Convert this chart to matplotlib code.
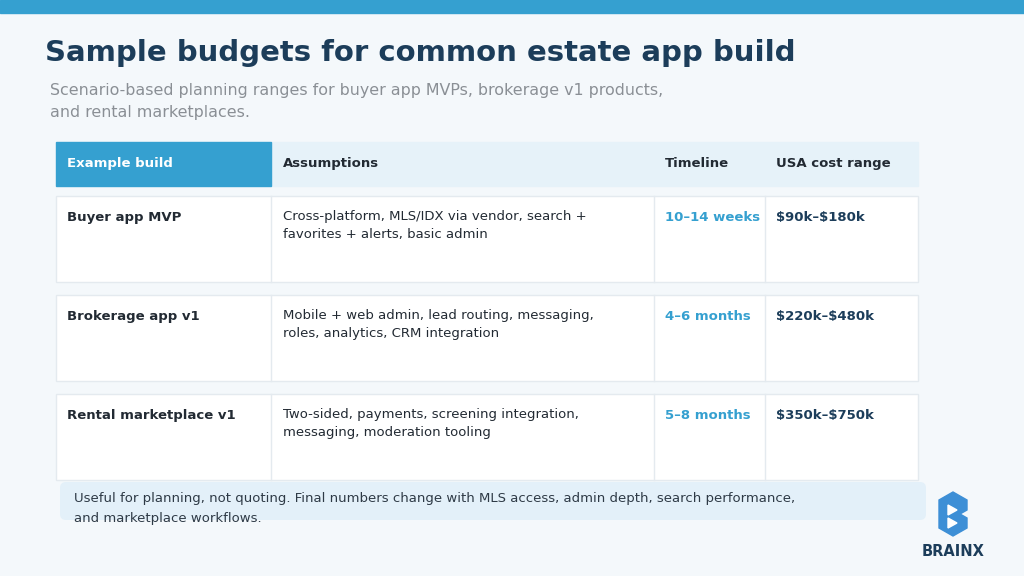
import matplotlib.pyplot as plt
from matplotlib.patches import Rectangle, FancyBboxPatch, Polygon

plt.rcParams["text.parse_math"] = False

# --- DATA ---
TITLE = "Sample budgets for common estate app build"
SUBTITLE = ["Scenario-based planning ranges for buyer app MVPs, brokerage v1 products,",
            "and rental marketplaces."]
HEADERS = ["Example build", "Assumptions", "Timeline", "USA cost range"]
BUILDS = ["Buyer app MVP", "Brokerage app v1", "Rental marketplace v1"]
ASSUMPTIONS = [
    ["Cross-platform, MLS/IDX via vendor, search +", "favorites + alerts, basic admin"],
    ["Mobile + web admin, lead routing, messaging,", "roles, analytics, CRM integration"],
    ["Two-sided, payments, screening integration,", "messaging, moderation tooling"],
]
TIMELINES = ["10\u201314 weeks", "4\u20136 months", "5\u20138 months"]
COSTS = ["$90k\u2013$180k", "$220k\u2013$480k", "$350k\u2013$750k"]
FOOTNOTE = ["Useful for planning, not quoting. Final numbers change with MLS access, admin depth, search performance,",
            "and marketplace workflows."]

BLUE = "#35a0d0"
NAVY = "#1c3d5a"
DARK = "#222a33"

fig = plt.figure(figsize=(10.24, 5.76), dpi=100)
fig.patch.set_facecolor("#f4f8fb")
ax = fig.add_axes([0, 0, 1, 1])
ax.set_xlim(0, 1024)
ax.set_ylim(576, 0)
ax.axis("off")

ax.add_patch(Rectangle((0, 0), 1024, 13, color=BLUE))
ax.text(45, 53, TITLE, fontsize=21, fontweight="bold", color=NAVY, va="center")
for i, line in enumerate(SUBTITLE):
    ax.text(50, 90 + i * 22, line, fontsize=11.4, color="#8a8f95", va="center")

# header row
col_x = [56, 271, 654, 765, 918]
text_x = [67, 283, 665, 776]
ax.add_patch(Rectangle((271, 142), 647, 44, color="#e6f2f9"))
ax.add_patch(Rectangle((56, 142), 215, 44, color=BLUE))
for i, h in enumerate(HEADERS):
    ax.text(text_x[i], 162, h, fontsize=9.5, fontweight="bold",
            color="white" if i == 0 else DARK, va="center_baseline")

# body rows
row_top = [196, 295, 394]
for r in range(len(BUILDS)):
    y0 = row_top[r]
    ax.add_patch(Rectangle((56, y0), 862, 86, facecolor="white", edgecolor="#e4eaef", lw=1))
    for cx in col_x[1:4]:
        ax.plot([cx, cx], [y0, y0 + 86], color="#e4eaef", lw=1)
    ax.text(text_x[0], y0 + 20, BUILDS[r], fontsize=9.5, fontweight="bold", color=DARK, va="center_baseline")
    for j, line in enumerate(ASSUMPTIONS[r]):
        ax.text(text_x[1], y0 + 19 + j * 18, line, fontsize=9.5, color=DARK, va="center_baseline")
    ax.text(text_x[2], y0 + 20, TIMELINES[r], fontsize=9.5, fontweight="bold", color=BLUE, va="center_baseline")
    ax.text(text_x[3], y0 + 20, COSTS[r], fontsize=9.5, fontweight="bold", color=NAVY, va="center_baseline")

# footnote
ax.add_patch(FancyBboxPatch((60, 482), 866, 38, boxstyle="round,pad=0,rounding_size=6",
                            facecolor="#e3f0f9", edgecolor="none"))
for i, line in enumerate(FOOTNOTE):
    ax.text(74, 497 + i * 20, line, fontsize=9.5, color="#2e3a46", va="center_baseline")

# logo
ax.add_patch(Polygon([(953, 492), (967, 500), (967, 510), (960, 514), (967, 518),
                      (967, 528), (953, 536), (939, 528), (939, 500)],
                     closed=True, color="#3d8fd6"))
ax.add_patch(Polygon([(948, 505), (957, 510), (948, 515)], closed=True, color="white"))
ax.add_patch(Polygon([(948, 518), (957, 523), (948, 528)], closed=True, color="white"))
ax.text(953, 551, "BRAINX", fontsize=10.5, fontweight="bold", color=NAVY, ha="center", va="center")

fig.savefig("out.png", dpi=100, facecolor=fig.get_facecolor())
